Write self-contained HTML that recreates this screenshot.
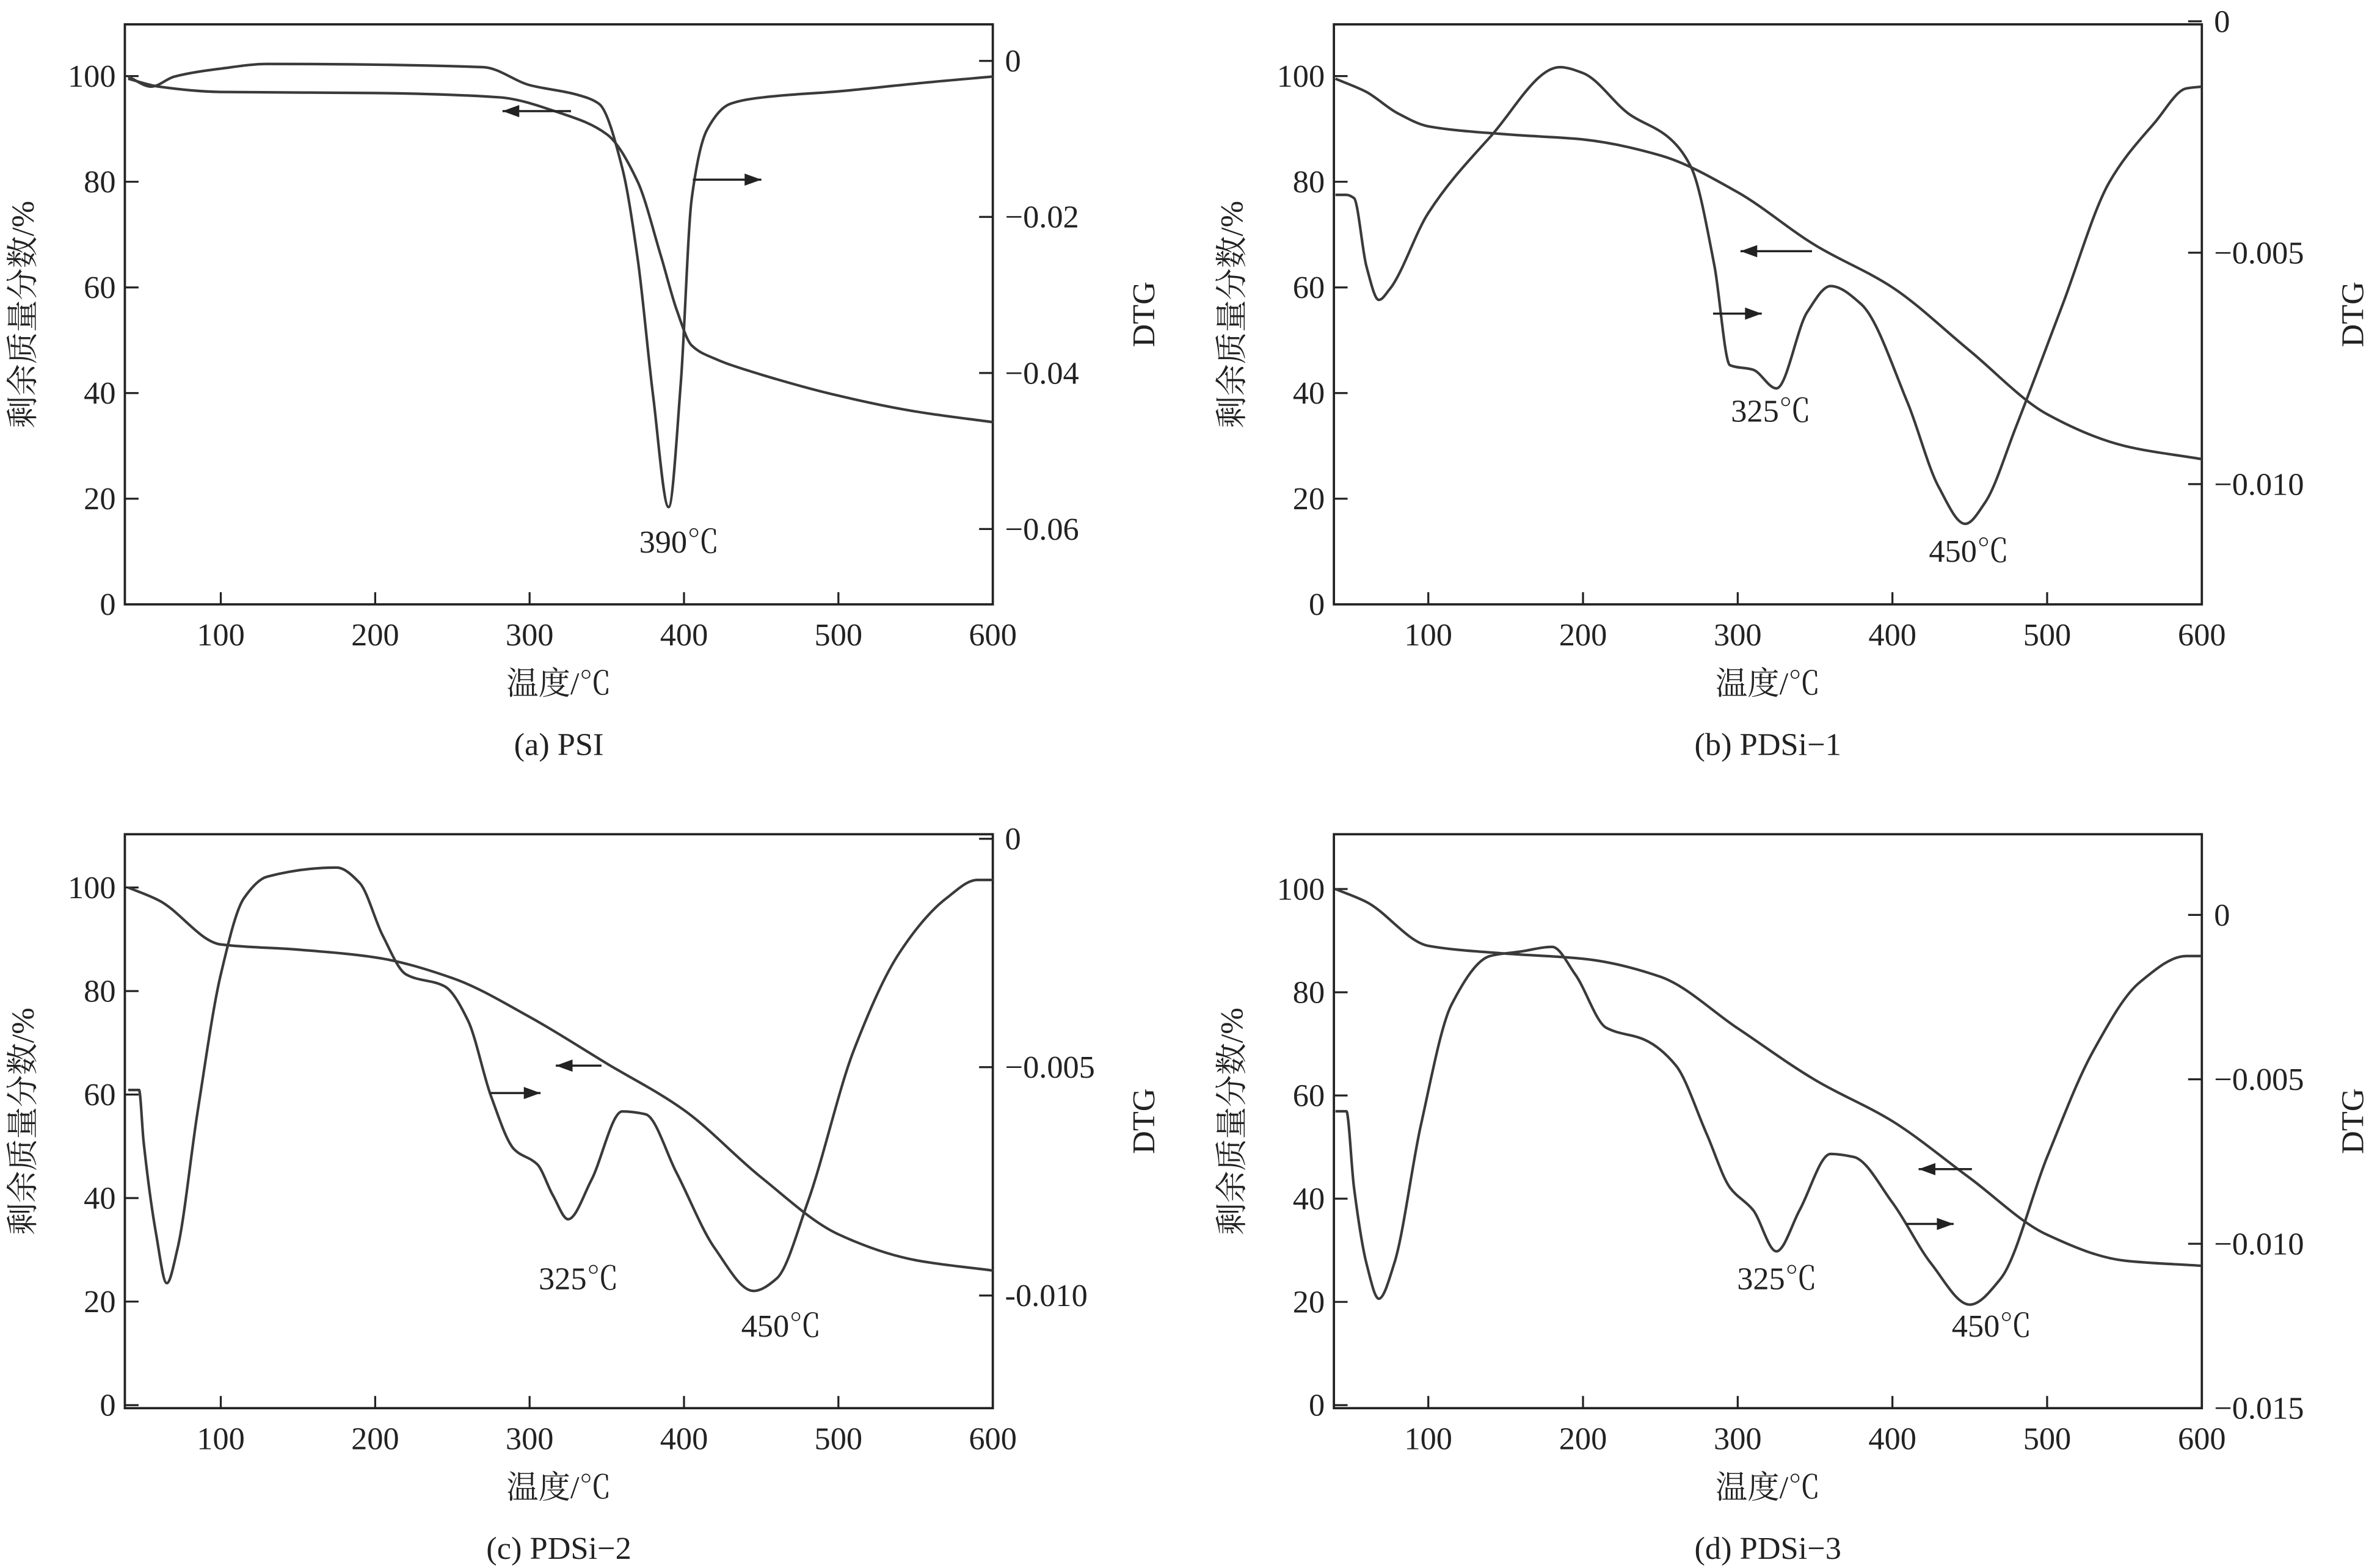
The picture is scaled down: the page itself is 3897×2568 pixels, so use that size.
<!DOCTYPE html>
<html><head><meta charset="utf-8"><style>
html,body{margin:0;padding:0;background:#fff}
svg{display:block}
text{font-family:"Liberation Serif","Noto Serif CJK SC",serif;fill:#222}
</style></head><body>
<svg id="fig" width="3897" height="2568" viewBox="0 0 1563 1030" preserveAspectRatio="none" xmlns="http://www.w3.org/2000/svg"></svg>
<script>
// ---- Panel (a) PSI ----
const aTgT=[40,60,100,200,280,320,350,370,385,395,405,420,450,500,550,600];
const aTgV=[99.5,98,97,96.8,96,93,89,80,66,56,49,46.5,43.5,39.5,36.5,34.5];
const aDtgT=[40,55,70,100,130,270,300,330,345,360,370,380,390,398,405,415,430,450,500,550,600];
const aDtgV=[-0.0020,-0.0033,-0.0020,-0.0010,-0.0004,-0.0008,-0.0031,-0.0043,-0.0055,-0.0137,-0.0254,-0.0429,-0.0572,-0.0410,-0.0176,-0.0088,-0.0055,-0.0047,-0.0039,-0.0029,-0.0020];
const aRightTicks=[0,-0.02,-0.04,-0.06];
const aRightLabels=["0","−0.02","−0.04","−0.06"];
// ---- Panel (b) PDSi-1 ----
const bTgT=[40,60,80,100,150,200,250,300,350,400,450,500,550,600];
const bTgV=[99.5,97,93,90.5,89,88,85,78,68,60,48,36,30,27.5];
const bDtgT=[40,47,52,60,68,75,100,140,185,200,230,255,270,285,295,310,325,345,360,380,410,430,447,460,480,510,540,570,590,600];
const bDtgV=[-0.00375,-0.00375,-0.00382,-0.00530,-0.00602,-0.00579,-0.00414,-0.00250,-0.00099,-0.00112,-0.00201,-0.00250,-0.00316,-0.00530,-0.00743,-0.00753,-0.00793,-0.00628,-0.00572,-0.00612,-0.00826,-0.01007,-0.01086,-0.01039,-0.00875,-0.00612,-0.00349,-0.00217,-0.00145,-0.00141];
const bRightTicks=[0,-0.005,-0.010];
const bRightLabels=["0","−0.005","−0.010"];
// ---- Panel (c) PDSi-2 ----
const cTgT=[40,60,100,150,200,250,300,350,400,450,500,550,600];
const cTgV=[100,97.5,89,88,86.5,82.5,75,66,57,44,33,28,26];
const cDtgT=[40,47,50,58,65,72,85,100,115,130,175,190,205,220,245,260,275,290,305,315,325,340,360,375,395,420,445,460,480,510,540,570,590,600];
const cDtgV=[-0.0055,-0.0055,-0.00663,-0.00863,-0.00973,-0.00897,-0.00597,-0.00297,-0.0013,-0.00083,-0.00063,-0.00097,-0.00213,-0.00297,-0.00323,-0.00397,-0.00563,-0.0068,-0.00713,-0.0078,-0.00833,-0.00747,-0.00597,-0.00603,-0.0073,-0.00897,-0.0099,-0.00963,-0.00797,-0.00463,-0.00247,-0.0013,-0.0009,-0.0009];
const cRightTicks=[0,-0.005,-0.010];
const cRightLabels=["0","−0.005","-0.010"];
// ---- Panel (d) PDSi-3 ----
const dTgT=[40,60,100,150,200,250,300,350,400,450,500,550,600];
const dTgV=[100,97.5,89,87.5,86.5,83,73,63,55,44,33,28,27];
const dDtgT=[40,47,52,60,68,78,95,115,140,160,180,195,215,240,260,280,295,310,325,340,360,375,400,425,450,470,500,530,560,590,600];
const dDtgV=[-0.00597,-0.00597,-0.00829,-0.0106,-0.01167,-0.0106,-0.00644,-0.00273,-0.00125,-0.00111,-0.00097,-0.00181,-0.00343,-0.0038,-0.00458,-0.00667,-0.00829,-0.00898,-0.01023,-0.00898,-0.00727,-0.00736,-0.00875,-0.0106,-0.01185,-0.01106,-0.00736,-0.00412,-0.00204,-0.00125,-0.00125];
const dRightTicks=[0,-0.005,-0.010,-0.015];
const dRightLabels=["0","−0.005","−0.010","−0.015"];

const xTicks=[100,200,300,400,500,600];
const leftTicks=[0,20,40,60,80,100];

const NS="http://www.w3.org/2000/svg";
const svg=document.getElementById('fig');
function mk(tag,attrs,parent){const e=document.createElementNS(NS,tag);for(const k in attrs)e.setAttribute(k,attrs[k]);(parent||svg).appendChild(e);return e;}
// monotone cubic (Fritsch-Carlson) – no overshoot
function smooth(p){const n=p.length;const dx=[],dy=[],m=[];
 for(let i=0;i<n-1;i++){dx.push(p[i+1][0]-p[i][0]);dy.push(p[i+1][1]-p[i][1]);m.push(dy[i]/dx[i]);}
 const t=[m[0]];
 for(let i=1;i<n-1;i++){if(m[i-1]*m[i]<=0)t.push(0);else{const w1=2*dx[i]+dx[i-1],w2=dx[i]+2*dx[i-1];t.push((w1+w2)/(w1/m[i-1]+w2/m[i]));}}
 t.push(m[n-2]);
 let d="M"+p[0][0].toFixed(1)+","+p[0][1].toFixed(1);
 for(let i=0;i<n-1;i++){const h=dx[i]/3;
  d+=" C"+(p[i][0]+h).toFixed(1)+","+(p[i][1]+t[i]*h).toFixed(1)+" "+(p[i+1][0]-h).toFixed(1)+","+(p[i+1][1]-t[i+1]*h).toFixed(1)+" "+p[i+1][0].toFixed(1)+","+p[i+1][1].toFixed(1);}
 return d;}

function panel(cfg){
 const g=mk('g',{});
 
 
 const {L,R,T,B,x100,x600,y0,y100,r0,rStep,rUnit}=cfg;
 const sx=t=>x100+(t-100)*(x600-x100)/500;
 const sy=v=>y0+(v*(y100-y0)/100);
 const sr=v=>r0+(-v/rUnit)*rStep;
 const fr=mk('rect',{x:L,y:T,width:R-L,height:B-T,fill:'none',stroke:'#222','stroke-width':1.5},g);
 
 
 xTicks.forEach(t=>{const x=sx(t);
  if(t<600){const tk=mk('line',{x1:x,y1:B,x2:x,y2:B-8,stroke:'#222','stroke-width':1.3},g);
  }
  const tl=mk('text',{x:x,y:B+27,'font-size':21,'text-anchor':'middle'},g);tl.textContent=t;
  });
 leftTicks.forEach(v=>{const y=sy(v);
  const tk=mk('line',{x1:L,y1:y,x2:L+9,y2:y,stroke:'#222','stroke-width':1.3},g);
  
  const tl=mk('text',{x:L-6,y:y+7,'font-size':21,'text-anchor':'end'},g);tl.textContent=v;
  });
 cfg.rt.forEach((v,i)=>{const y=sr(v);
  const tk=mk('line',{x1:R,y1:y,x2:R-9,y2:y,stroke:'#222','stroke-width':1.3},g);
  
  const tl=mk('text',{x:R+8,y:y+7,'font-size':21},g);tl.textContent=cfg.rl[i];
  });
 const cy=(T+B)/2;
 const lt=mk('text',{x:0,y:0,'font-size':21,'text-anchor':'middle',transform:`translate(${L-60},${cy}) rotate(-90)`},g);lt.textContent='剩余质量分数/%';
 
 const rtt=mk('text',{x:0,y:0,'font-size':21,'text-anchor':'middle',transform:`translate(${R+106},${cy}) rotate(-90)`},g);rtt.textContent='DTG';
 
 const xt=mk('text',{x:(L+R)/2,y:B+59,'font-size':21,'text-anchor':'middle'},g);xt.textContent='温度/℃';
 
 const cp=mk('text',{x:(L+R)/2,y:B+99,'font-size':21,'text-anchor':'middle'},g);cp.textContent=cfg.caption;
 
 const tg=mk('path',{d:smooth(cfg.tgT.map((t,i)=>[sx(t),sy(cfg.tgV[i])])),fill:'none',stroke:'#3a3a3a','stroke-width':1.7},g);
 
 const dt=mk('path',{d:smooth(cfg.dT.map((t,i)=>[sx(t),sr(cfg.dV[i])])),fill:'none',stroke:'#3a3a3a','stroke-width':1.7},g);
 
 cfg.arrows.forEach(a=>{
  const ln=mk('line',{x1:a[0],y1:a[2],x2:a[1],y2:a[2],stroke:'#222','stroke-width':1.4},g);
  
  const dir=a[1]>a[0]?1:-1;
  const hd=mk('path',{d:`M${a[1]},${a[2]} L${a[1]-dir*11},${a[2]-4} L${a[1]-dir*11},${a[2]+4} Z`,fill:'#222'},g);
  });
 cfg.labels.forEach(l=>{const t=mk('text',{x:l[0],y:l[1],'font-size':21,'text-anchor':'middle'},g);t.textContent=l[2];
  });
}
panel({id:'a',caption:'(a) PSI',L:82,R:652,T:16,B:397,x100:145,x600:652,y0:397,y100:50,r0:40,rStep:102.5,rUnit:0.02,
 rt:aRightTicks,rl:aRightLabels,tgT:aTgT,tgV:aTgV,dT:aDtgT,dV:aDtgV,
 arrows:[[375,330,73],[455,500,118]],labels:[[446,363,'390℃']]});
panel({id:'b',caption:'(b) PDSi−1',L:876,R:1446,T:16,B:397,x100:938,x600:1446,y0:397,y100:50,r0:14,rStep:152,rUnit:0.005,
 rt:bRightTicks,rl:bRightLabels,tgT:bTgT,tgV:bTgV,dT:bDtgT,dV:bDtgV,
 arrows:[[1190,1143,165],[1125,1157,206]],labels:[[1163,277,'325℃'],[1293,369,'450℃']]});
panel({id:'c',caption:'(c) PDSi−2',L:82,R:652,T:548,B:925,x100:145,x600:652,y0:923,y100:583,r0:551,rStep:150,rUnit:0.005,
 rt:cRightTicks,rl:cRightLabels,tgT:cTgT,tgV:cTgV,dT:cDtgT,dV:cDtgV,
 arrows:[[395,365,700],[322,355,718]],labels:[[380,847,'325℃'],[513,878,'450℃']]});
panel({id:'d',caption:'(d) PDSi−3',L:876,R:1446,T:548,B:925,x100:938,x600:1446,y0:923,y100:584,r0:601,rStep:108,rUnit:0.005,
 rt:dRightTicks,rl:dRightLabels,tgT:dTgT,tgV:dTgV,dT:dDtgT,dV:dDtgV,
 arrows:[[1295,1260,768],[1252,1283,804]],labels:[[1167,847,'325℃'],[1308,878,'450℃']]});
</script>
</body></html>
